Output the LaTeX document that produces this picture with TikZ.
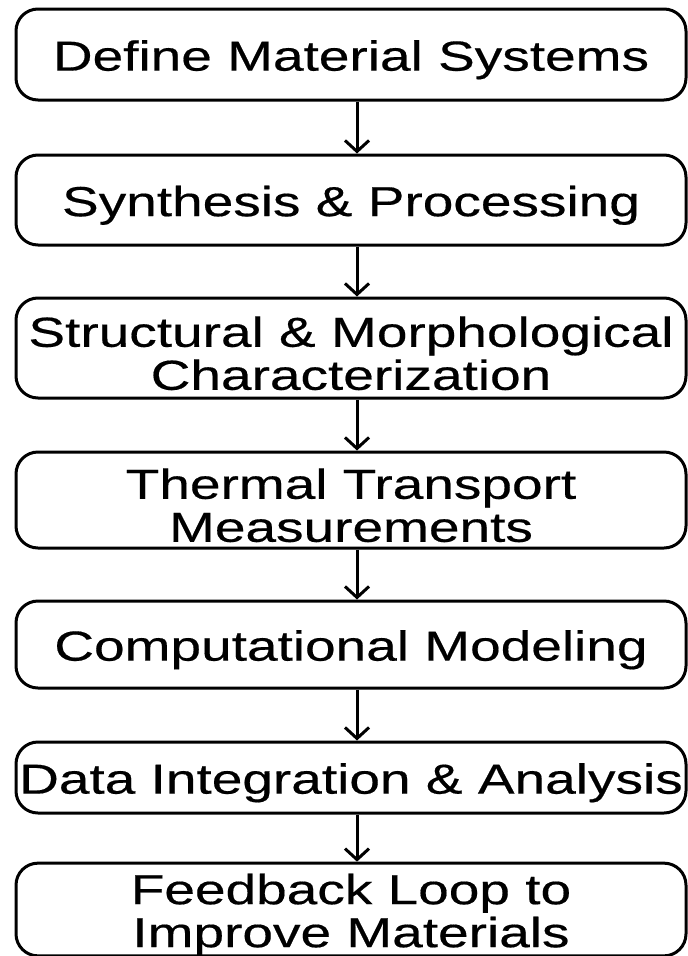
\documentclass[tikz,border=0pt]{standalone}
\usepackage{fontspec}
\setmainfont{Liberation Sans}
\newfontfamily\boxfont[FakeStretch=1.31,FakeBold=0.4]{Liberation Sans}
\usetikzlibrary{arrows.meta}
\newcommand{\bxstrut}{\rule{0pt}{41pt}}
\tikzset{
  stepbox/.style={draw=black, line width=3pt, rounded corners=22pt, minimum width=670pt, align=center, inner sep=0pt,
    font=\boxfont\fontsize{42}{43}\selectfont, text=black},
  flow/.style={line width=3pt, -{Straight Barb[length=11pt,width=24pt,line width=3pt]}}
}
\begin{document}
\begin{tikzpicture}[x=1pt,y=1pt]
\useasboundingbox (0,0) rectangle (688,-956);
\fill[white] (0,0) rectangle (688,-956);
\node[stepbox, minimum height=91pt] (a) at (351,-54.5) {\bxstrut Define Material Systems};
\node[stepbox, minimum height=90pt] (b) at (351,-200) {\bxstrut Synthesis \& Processing};
\node[stepbox, minimum height=100pt] (c) at (351,-348) {\bxstrut Structural \& Morphological\\Characterization};
\node[stepbox, minimum height=96pt] (d) at (351,-500) {\bxstrut Thermal Transport\\Measurements};
\node[stepbox, minimum height=87pt] (e) at (351,-644.5) {\bxstrut Computational Modeling};
\node[stepbox, minimum height=71pt] (f) at (351,-777.5) {\bxstrut Data Integration \& Analysis};
\node[stepbox, minimum height=87pt] (g) at (351,-909.5) {\bxstrut Feedback Loop to\\Improve Materials};
\draw[flow] (a.south -| 357,0) -- (b.north -| 357,0);
\draw[flow] (b.south -| 357,0) -- (c.north -| 357,0);
\draw[flow] (c.south -| 357,0) -- (d.north -| 357,0);
\draw[flow] (d.south -| 357,0) -- (e.north -| 357,0);
\draw[flow] (e.south -| 357,0) -- (f.north -| 357,0);
\draw[flow] (f.south -| 357,0) -- (g.north -| 357,0);
\end{tikzpicture}
\end{document}
